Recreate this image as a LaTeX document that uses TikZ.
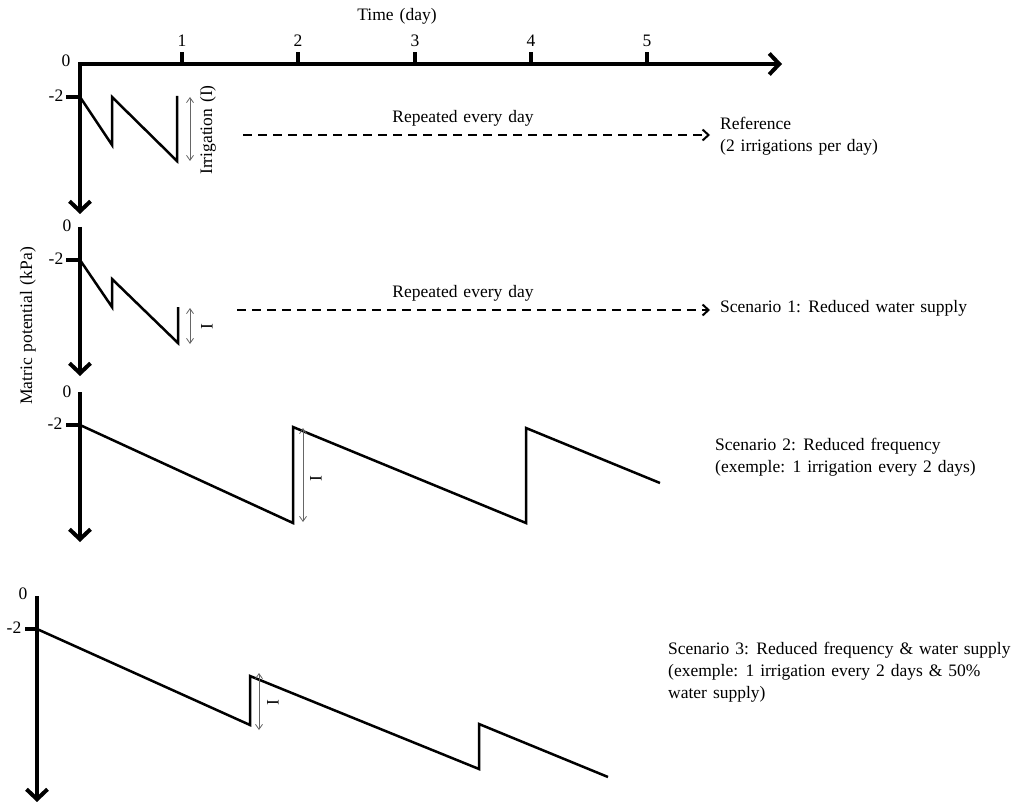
\documentclass[tikz,border=0pt]{standalone}
\usepackage{fontspec}
\setmainfont{Liberation Serif}
\usetikzlibrary{arrows.meta}
\newcommand{\diagfont}{\fontsize{17.5}{22}\selectfont\spaceskip=0.34em plus 0.1em minus 0.05em\relax}
\begin{document}
\begin{tikzpicture}[x=1pt,y=-1pt,
  every node/.style={font=\diagfont, inner sep=2pt},
  axisarrow/.style={line width=4pt,-{Straight Barb[length=10pt,width=21pt]}},
  ticklbl/.style={inner sep=1pt},
  curve/.style={line width=2.5pt},
  irrarrow/.style={draw=black!60, line width=0.8pt,{Straight Barb[length=5pt,width=7pt]}-{Straight Barb[length=5pt,width=7pt]}},
  repeatarrow/.style={line width=2pt, dash pattern=on 9pt off 6pt, -{Straight Barb[length=6pt,width=11pt]}, shorten >=8pt},
  sidelbl/.style={anchor=west, align=left}]
\useasboundingbox (0,0) rectangle (1014,802);

% ---------------- top time axis -----------------
\coordinate (o1) at (80,64);
\coordinate (xend) at (782,64);
\draw[axisarrow] (78,64) -- (xend);
\foreach \x/\d in {182/1,298/2,415/3,531/4,647/5}{
  \draw[line width=3.5pt] (\x,64) -- (\x,52);
  \node[ticklbl] (tick\d) at (\x,41) {\d};
}
\node (timelbl) at (397,16) {Time (day)};

% ---------------- Reference panel -----------------
\coordinate (y1end) at (80,214);
\draw[axisarrow] (o1) -- (y1end);
\node (zero1) at (66,61) {0};
\draw[line width=3.5pt] (66,97) -- (80,97);
\node (mtwo1) at (56,96) {-2};
\draw[curve] (80,97) -- (112,145) -- (112,97) -- (177,161) -- (177,96);
\draw[irrarrow] (190,97) -- (190,161);
\node[rotate=90] (irrlbl) at (208,130) {Irrigation (I)};
\coordinate (rep1s) at (243,135);
\node[sidelbl] (ref) at (718,136) {Reference\\(2 irrigations per day)};
\draw[repeatarrow] (rep1s) -- (ref.west |- rep1s);
\node (rep1lbl) at (463,118) {Repeated every day};

% ---------------- Scenario 1 -----------------
\draw[axisarrow] (80,227) -- (80,376);
\node (zero2) at (67,226) {0};
\draw[line width=3.5pt] (66,260) -- (80,260);
\node (mtwo2) at (56,259) {-2};
\draw[curve] (80,260) -- (112,307) -- (112,279) -- (178,343) -- (178,307);
\draw[irrarrow] (190,308) -- (190,344);
\node[rotate=90] (i2) at (207,327) {I};
\coordinate (rep2s) at (237,310);
\node[sidelbl] (sc1) at (718,308) {Scenario 1: Reduced water supply};
\draw[repeatarrow] (rep2s) -- (sc1.west |- rep2s);
\node (rep2lbl) at (463,293) {Repeated every day};

\node[rotate=90] (ylbl) at (28,326) {Matric potential (kPa)};

% ---------------- Scenario 2 -----------------
\draw[axisarrow] (80,392) -- (80,542);
\node (zero3) at (67,392) {0};
\draw[line width=3.5pt] (66,425) -- (80,425);
\node (mtwo3) at (55,424) {-2};
\draw[curve] (80,425) -- (293,523) -- (293,427) -- (526,523) -- (526,428) -- (660,483);
\draw[irrarrow] (303,428) -- (303,522);
\node[rotate=90] (i3) at (316,479) {I};
\node[sidelbl] (sc2) at (713,457) {Scenario 2: Reduced frequency\\(exemple: 1 irrigation every 2 days)};

% ---------------- Scenario 3 -----------------
\draw[axisarrow] (37,596) -- (37,802);
\node (zero4) at (23,594) {0};
\draw[line width=3.5pt] (25,629) -- (37,629);
\node (mtwo4) at (14,628) {-2};
\draw[curve] (37,629) -- (250,725) -- (250,676) -- (479,769) -- (479,724) -- (608,777);
\draw[irrarrow] (259,673) -- (259,730);
\node[rotate=90] (i4) at (273,703) {I};
\node[sidelbl] (sc3) at (666,672) {Scenario 3: Reduced frequency \& water supply\\(exemple: 1 irrigation every 2 days \& 50\%\\water supply)};
\end{tikzpicture}
\end{document}
